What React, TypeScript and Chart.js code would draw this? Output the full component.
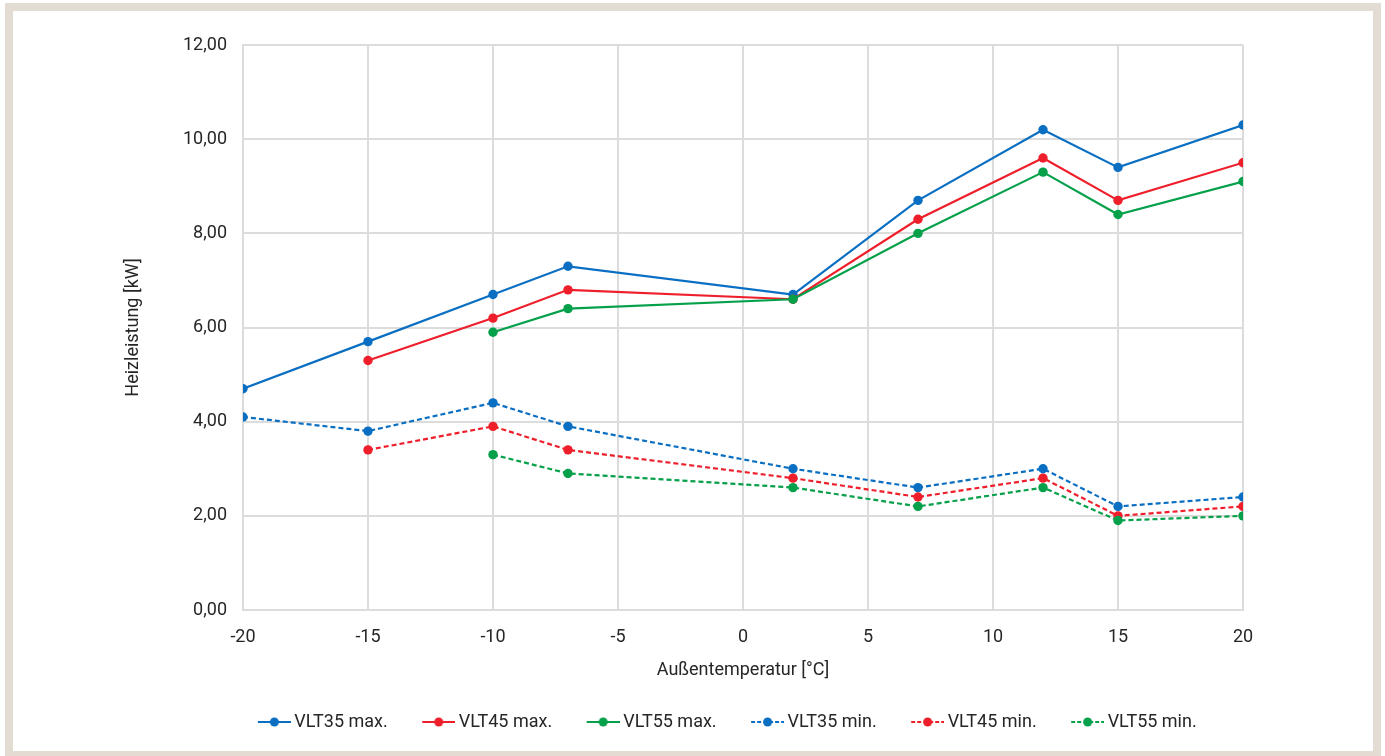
import React, { useEffect, useRef } from "react";
import { Chart, registerables } from "chart.js";

Chart.register(...registerables);

const temps = [-20, -15, -10, -7, 2, 7, 12, 15, 20];
const vlt35Max = [4.7, 5.7, 6.7, 7.3, 6.7, 8.7, 10.2, 9.4, 10.3];
const vlt45Max = [null, 5.3, 6.2, 6.8, 6.6, 8.3, 9.6, 8.7, 9.5];
const vlt55Max = [null, null, 5.9, 6.4, 6.6, 8.0, 9.3, 8.4, 9.1];
const vlt35Min = [4.1, 3.8, 4.4, 3.9, 3.0, 2.6, 3.0, 2.2, 2.4];
const vlt45Min = [null, 3.4, 3.9, 3.4, 2.8, 2.4, 2.8, 2.0, 2.2];
const vlt55Min = [null, null, 3.3, 2.9, 2.6, 2.2, 2.6, 1.9, 2.0];

const seriesLabels = ["VLT35 max.", "VLT45 max.", "VLT55 max.", "VLT35 min.", "VLT45 min.", "VLT55 min."];
const seriesValues = [vlt35Max, vlt45Max, vlt55Max, vlt35Min, vlt45Min, vlt55Min];
const seriesDashed = [false, false, false, true, true, true];

const BLUE = "#0a6fc2";
const RED = "#ee1f2b";
const GREEN = "#05a04a";
const seriesColors = [BLUE, RED, GREEN, BLUE, RED, GREEN];

const FONT = "Roboto, 'Liberation Sans', sans-serif";
const FS = 18;
const TEXT = "#262626";
const GRID = "#dcdcdc";

function makeMarker(color: string, dashed: boolean): HTMLCanvasElement {
  const c = document.createElement("canvas");
  c.width = 63;
  c.height = 12;
  const ctx = c.getContext("2d")!;
  ctx.strokeStyle = color;
  ctx.lineWidth = 2;
  if (dashed) ctx.setLineDash([4, 2]);
  ctx.beginPath();
  ctx.moveTo(30, 6);
  ctx.lineTo(63, 6);
  ctx.stroke();
  ctx.setLineDash([]);
  ctx.fillStyle = color;
  ctx.beginPath();
  ctx.arc(46.5, 6, 4.5, 0, Math.PI * 2);
  ctx.fill();
  return c;
}

export default function App() {
  const ref = useRef<HTMLCanvasElement>(null);

  useEffect(() => {
    if (!ref.current) return;
    const markers = seriesLabels.map((_, i) => makeMarker(seriesColors[i], seriesDashed[i]));
    const datasets = seriesLabels.map((label, i) => ({
      label,
      data: temps
        .map((t, j) => ({ x: t, y: seriesValues[i][j] }))
        .filter((p) => p.y !== null),
      borderColor: seriesColors[i],
      backgroundColor: seriesColors[i],
      pointBackgroundColor: seriesColors[i],
      pointBorderColor: seriesColors[i],
      pointBorderWidth: 0,
      pointRadius: 4.7,
      borderWidth: 2.2,
      borderDash: seriesDashed[i] ? [5, 3] : [],
      tension: 0,
      order: seriesLabels.length - i,
    }));

    const chart = new Chart(ref.current, {
      type: "line",
      data: { datasets: datasets as any },
      options: {
        animation: false,
        responsive: false,
        devicePixelRatio: 1,
        layout: { padding: { left: 170, right: 125, top: 45, bottom: 15 } },
        scales: {
          x: {
            type: "linear",
            min: -20,
            max: 20,
            ticks: {
              stepSize: 5,
              color: TEXT,
              font: { family: FONT, size: FS },
              padding: 17,
            },
            grid: { color: GRID, lineWidth: 2, drawTicks: false },
            border: { color: GRID, width: 2 },
            title: {
              display: true,
              text: "Außentemperatur [°C]",
              color: TEXT,
              font: { family: FONT, size: FS },
              padding: { top: 0, bottom: 22.2 },
            },
            afterFit: (s: any) => {
              s.height = 93;
            },
          },
          y: {
            min: 0,
            max: 12,
            ticks: {
              stepSize: 2,
              color: TEXT,
              font: { family: FONT, size: FS },
              padding: 16,
              callback: (v: any) => Number(v).toFixed(2).replace(".", ","),
            },
            grid: { color: GRID, lineWidth: 2, drawTicks: false },
            border: { color: GRID, width: 2 },
            title: {
              display: true,
              text: "Heizleistung [kW]",
              color: TEXT,
              font: { family: FONT, size: FS },
              padding: { top: -47.8, bottom: 0 },
            },
            afterFit: (s: any) => {
              s.width = 73;
            },
          },
          yRightSpacer: {
            type: "linear",
            position: "right",
            display: true,
            ticks: { display: false },
            grid: { display: false, drawTicks: false },
            border: { display: false },
            afterFit: (s: any) => {
              s.width = 17;
            },
          },
        },
        plugins: {
          tooltip: { enabled: false },
          legend: {
            position: "bottom",
            labels: {
              usePointStyle: true,
              pointStyleWidth: 52,
              padding: 10,
              color: TEXT,
              font: { family: FONT, size: FS },
              generateLabels: (c: any) =>
                seriesLabels.map((text, i) => ({
                  text,
                  fillStyle: seriesColors[i],
                  strokeStyle: seriesColors[i],
                  lineWidth: 0,
                  pointStyle: markers[i],
                  hidden: !c.isDatasetVisible(i),
                  datasetIndex: i,
                  fontColor: TEXT,
                })),
            },
          },
        },
      } as any,
    });
    return () => chart.destroy();
  }, []);

  return (
    <div style={{ position: "fixed", left: 0, top: 0, width: 1385, height: 756, background: "#fff", overflow: "hidden" }}>
      <div
        style={{
          position: "absolute",
          left: 5,
          top: 3,
          width: 1376,
          height: 753,
          boxSizing: "border-box",
          borderStyle: "solid",
          borderColor: "#e3dcd3",
          borderWidth: "8px 8px 5px 8px",
          background: "#fff",
        }}
      />
      <canvas ref={ref} width={1385} height={756} style={{ position: "absolute", left: 0, top: 0 }} />
    </div>
  );
}
